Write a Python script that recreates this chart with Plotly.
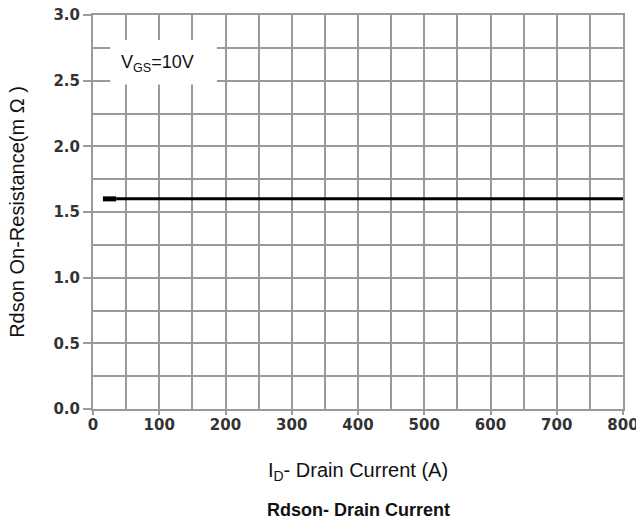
import plotly.graph_objects as go

# Data
current_a = [15, 35, 800]
rdson_mohm = [1.6, 1.6, 1.6]
x_ticks = [0, 100, 200, 300, 400, 500, 600, 700, 800]
y_ticks = [0.0, 0.5, 1.0, 1.5, 2.0, 2.5, 3.0]

grid_c = "#9a9a9a"
fig = go.Figure()
fig.add_trace(go.Scatter(x=current_a[1:], y=rdson_mohm[1:], mode="lines",
                         line=dict(color="black", width=3), showlegend=False))
fig.add_trace(go.Scatter(x=current_a[:2], y=rdson_mohm[:2], mode="lines",
                         line=dict(color="black", width=5), showlegend=False))

fig.add_shape(type="rect", x0=26, x1=187, y0=2.47, y1=2.81,
              fillcolor="white", line=dict(width=0), layer="between")
fig.add_annotation(x=97, y=2.63, text="V<sub>GS</sub>=10V", showarrow=False,
                   font=dict(family="Liberation Sans, Arial", size=18, color="#111"))

tickfont = dict(family="DejaVu Sans", size=15, color="#333", weight="bold")
fig.update_xaxes(range=[0, 800], tickvals=x_ticks, ticktext=[str(v) for v in x_ticks],
                 showgrid=True, gridcolor=grid_c, gridwidth=2,
                 minor=dict(dtick=50, showgrid=True, gridcolor=grid_c, gridwidth=2),
                 showline=True, linecolor=grid_c, linewidth=2, mirror=True,
                 ticks="outside", ticklen=4, tickcolor=grid_c, tickwidth=2,
                 tickfont=tickfont, zeroline=False, automargin=False,
                 ticklabeloverflow="allow", ticklabelstandoff=-3,
                 title=dict(text="I<sub>D</sub>- Drain Current (A)",
                            font=dict(family="Liberation Sans, Arial", size=20, color="#111"),
                            standoff=30))
fig.update_yaxes(range=[0, 3.0], tickvals=y_ticks, ticktext=[f"{v:.1f}" for v in y_ticks],
                 showgrid=True, gridcolor=grid_c, gridwidth=2,
                 minor=dict(dtick=0.25, showgrid=True, gridcolor=grid_c, gridwidth=2),
                 showline=True, linecolor=grid_c, linewidth=2, mirror=True,
                 ticks="outside", ticklen=8, tickcolor=grid_c, tickwidth=2,
                 tickfont=tickfont, zeroline=False, automargin=False,
                 title=dict(text="Rdson On-Resistance(m Ω )",
                            font=dict(family="Liberation Sans, Arial", size=20, color="#111"),
                            standoff=23))
fig.add_annotation(xref="paper", yref="paper", x=0.5, y=-0.256, yanchor="middle",
                   text="<b>Rdson- Drain Current</b>", showarrow=False,
                   font=dict(family="Liberation Sans, Arial", size=18, color="#111"))
fig.update_layout(width=636, height=523, margin=dict(l=93, r=13, t=15, b=114),
                  paper_bgcolor="white", plot_bgcolor="white")
fig.write_html("out.html", config={"displayModeBar": False},
               post_script="document.body.style.margin='0';document.body.style.overflow='hidden';")
